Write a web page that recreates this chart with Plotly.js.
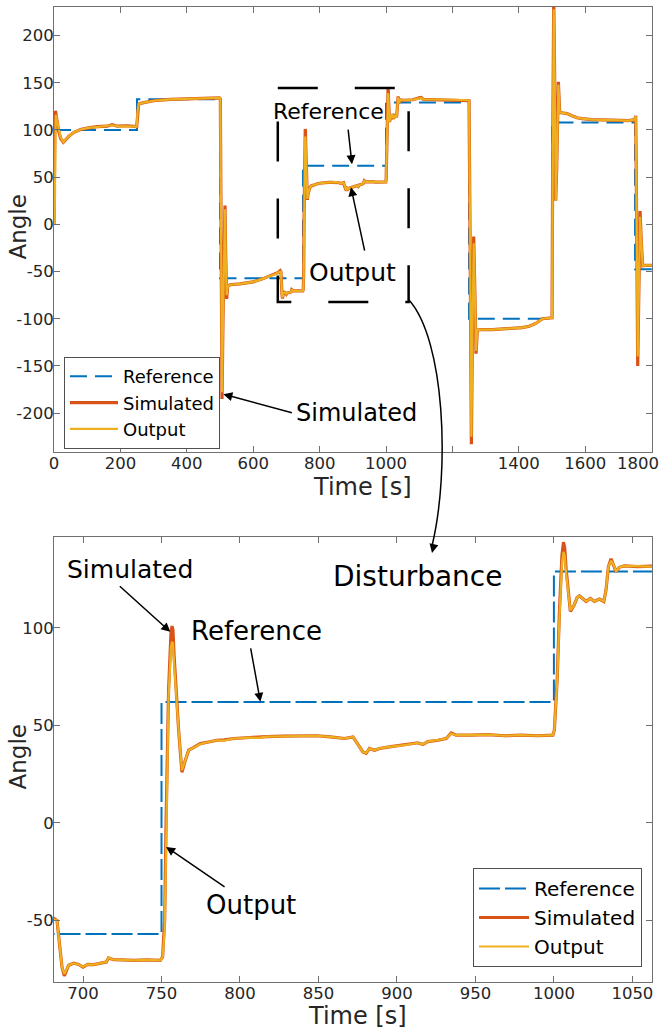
<!DOCTYPE html>
<html>
<head>
<meta charset="utf-8">
<script src="https://cdn.plot.ly/plotly-3.0.1.min.js"></script>
<style>html,body{margin:0;padding:0;background:#fff;}#chart{width:662px;height:1030px;}</style>
</head>
<body>
<div id="chart"></div>
<script>
// ---- data ----
const time = [0,1,3,5,6,9,14,20,28,35,45,60,80,100,130,160,175,190,220,249,252,255,270,300,350,420,470,498,501,503,506,509,513,515,517,520,523,530,560,600,630,650,665,675,
681.5,683.4,686.6,688.1,690.8,694,697.2,700,703,706.8,711,714.8,716.3,719.5,725,732.2,740.7,749.2,750.7,752,752.9,753.5,754.5,756,756.7,757.3,758,760.9,763,765.2,767.3,770,774.7,780,785.3,790,796,806.5,812,817,827.7,838.3,849,857.5,866.6,872,875.1,878.3,880.4,882.5,885.7,888.9,896.3,904.8,913.3,916.5,919.7,926.1,931.4,934.6,937.7,947.3,957.9,968.5,979.2,989.8,999.3,1000.3,1002.1,1003.5,1005.1,1006.1,1006.9,1007.8,1009.3,1010.5,1012.7,1014.8,1016.3,1018.4,1020.5,1023.3,1025.8,1029,1031.8,1033.2,1034.7,1036.4,1038.1,1039.6,1041.7,1044.9,1053.4,1062.3,
1080,1100,1106,1112,1150,1200,1249,1250,1253,1257,1260,1264,1268,1271,1275,1285,1320,1380,1410,1431,1451,1471,1498,1500,1502,1505,1508,1511,1514,1519,1523,1530,1545,1560,1575,1590,1620,1680,1730,1749,1752,1755,1758,1761,1765,1769,1773,1780,1801];

const output = [0,8,30,112,116,110,100,92,87,89.5,93.5,97.5,100.5,102,103,104,105,104,104,103.5,120,127.5,129,131,132.5,133,133.5,134,133,0,-178,-100,2,16,-30,-75,-66,-64,-63,-61,-57.5,-55,-53,-51,
-49.5,-50,-74,-77.5,-73,-72,-72.6,-73.8,-72.6,-72.7,-72.2,-71.4,-69.1,-70.2,-70.3,-70.5,-70.2,-70.5,-68.8,-55,-12,22,64.6,90,93,92,82,47.6,27,32.2,37.3,38.5,40.5,41.5,42.4,42.2,43.3,43.8,43.6,44.3,44.5,44.5,44.7,44.1,43.3,44.1,40.5,36.4,35.9,38.2,37.3,38.2,39.1,39.9,41.1,40.2,41.7,42.4,43.3,45.9,45,45,45.3,44.7,45,44.7,45,47.6,73,105,133,139,137,128,115.6,109,111.4,115.6,116.5,114.8,113.6,115.1,113.6,114.8,113.6,119.4,131.4,134.5,132.3,128.9,131.1,131.8,131.5,131.5,
132,133.5,134,132.5,132,132,131.5,131,0,-225,-120,-20,-80,-134,-112,-111.5,-111.5,-110.5,-109.5,-108,-105,-100,-99.5,-99,60,228,150,25,60,148,118.5,118,117.5,115,113,112,111,110.5,110,111,114.5,0,-140,-80,8,-20,-44,-43.5,-43.5];

const simulated = [0,118,120,119,116,110,99,91,87,89.5,93.5,97.5,100.5,102,103.5,104,105.5,104,104.5,103.5,120,127.5,129,131,132.5,133,133.5,134,133,-10,-185,-100,6,20,-30,-79,-66,-64,-63,-61,-57.5,-55,-53,-51,
-49,-50,-74,-78.5,-73,-72,-72.6,-74,-72.6,-72.7,-72.2,-71.4,-69.3,-70.2,-70.3,-70.5,-70.2,-70.5,-68.8,-50,0,28,68,97,101,99,86,47.6,26,32.2,37.3,38.5,40.7,41.5,42.4,42.6,43.3,43.8,44.2,44.3,44.5,44.5,44.7,44.1,43.3,44.1,40.5,36.4,35.7,38.2,37.3,38.2,39.1,39.9,41.1,40.2,41.7,42.4,43.3,46.1,45,45,45.3,44.7,45,44.7,45,47.6,74,108,137,144,141,130,115.6,108.5,111.4,115.6,116.5,114.8,113.6,115.1,113.6,114.8,113.6,119.4,131.4,135.5,132.3,128.9,131.1,131.8,131.5,131.5,
132,134,134.5,132.5,132,132,131.5,131,-10,-233,-120,-13,-80,-137,-112,-111.5,-111.5,-110.5,-109.5,-108,-105,-100,-99.5,-99,80,240,150,25,60,151,118.5,118,117.5,115,113,112,111,110.5,110,111,115,-10,-150,-80,14,-20,-44,-43.5,-43.5];

const refTime  = [0,250,250,500,500,750,750,1000,1000,1250,1250,1500,1500,1750,1750,1801];
const refValue = [100,100,132.5,132.5,-57,-57,62,62,129,129,-100,-100,108,108,-47.5,-47.5];

const topXTicks = [0,200,400,600,800,1000,1200,1400,1600,1800];
const topXLabels = ['0','200','400','600','800','1000','','1400','1600',''];
const topYTicks = [-200,-150,-100,-50,0,50,100,150,200];
const topYLabels = ['-200','-150','-100','-50','0','50','100','150','200'];
const botXTicks = [700,750,800,850,900,950,1000,1050];
const botXLabels = ['700','750','800','850','900','950','1000','1050'];
const botYTicks = [-50,0,50,100];
const botYLabels = ['-50','0','50','100'];
const lastTopXLabel = '1800';

const seriesNames = ['Reference','Simulated','Output'];
const colors = ['#0072BD','#D95319','#EDB120'];

// ---- traces ----
const FONT = 'DejaVu Sans, Verdana, sans-serif';
function makeTraces(xa, ya, leg, dash) {
  return [
    {x: refTime, y: refValue, xaxis: xa, yaxis: ya, legend: leg, name: seriesNames[0], mode: 'lines',
     line: {color: colors[0], width: 2, dash: dash}},
    {x: time, y: simulated, xaxis: xa, yaxis: ya, legend: leg, name: seriesNames[1], mode: 'lines',
     line: {color: colors[1], width: 3.2}},
    {x: time, y: output, xaxis: xa, yaxis: ya, legend: leg, name: seriesNames[2], mode: 'lines',
     line: {color: colors[2], width: 2.2}}
  ];
}
const data = makeTraces('x', 'y', 'legend', '17px,8px').concat(makeTraces('x2', 'y2', 'legend2', '21px,5px'));

const axisBase = {
  showgrid: false, zeroline: false, showline: true, linecolor: '#707070', linewidth: 1,
  mirror: 'ticks', ticks: 'inside', ticklen: 6, tickcolor: '#707070', tickmode: 'array',
  ticklabelstandoff: -4,
  tickfont: {family: FONT, size: 16.5, color: '#262626'}
};

function txt(text, x, y, xr, yr, size, color, angle) {
  return {text: text, x: x, y: y, xref: xr, yref: yr, showarrow: false, textangle: angle || 0,
          font: {family: FONT, size: size, color: color || '#000'}, xanchor: 'center', yanchor: 'middle'};
}
function arrow(x, y, xr, yr, ax, ay) {
  return {text: '', x: x, y: y, xref: xr, yref: yr, ax: ax, ay: ay, showarrow: true,
          arrowhead: 2, arrowsize: 1.2, arrowwidth: 1.5, arrowcolor: '#000', standoff: 0, startstandoff: 0};
}

const layout = {
  width: 662, height: 1030,
  margin: {l: 54, r: 10, t: 7, b: 48},
  paper_bgcolor: '#fff', plot_bgcolor: '#fff',
  font: {family: FONT, color: '#262626'},
  xaxis: Object.assign({}, axisBase, {domain: [0, 1], anchor: 'y', range: [0, 1801],
    tickvals: topXTicks, ticktext: topXLabels}),
  yaxis: Object.assign({}, axisBase, {domain: [0.5436, 1], anchor: 'x', range: [-241.2, 230.3],
    tickvals: topYTicks, ticktext: topYLabels}),
  xaxis2: Object.assign({}, axisBase, {domain: [0, 1], anchor: 'y2', range: [681.5, 1062.5],
    tickvals: botXTicks, ticktext: botXLabels}),
  yaxis2: Object.assign({}, axisBase, {domain: [0, 0.4567], anchor: 'x2', range: [-81.6, 146.8],
    tickvals: botYTicks, ticktext: botYLabels}),
  legend: {x: 0.0167, y: 0.5467, xanchor: 'left', yanchor: 'bottom', bgcolor: '#fff',
    bordercolor: '#505050', borderwidth: 1, font: {family: FONT, size: 18, color: '#000'},
    itemwidth: 48, tracegroupgap: 0},
  legend2: {x: 0.9833, y: 0.0154, xanchor: 'right', yanchor: 'bottom', bgcolor: '#fff',
    bordercolor: '#505050', borderwidth: 1, font: {family: FONT, size: 20, color: '#000'},
    itemwidth: 50, tracegroupgap: 0},
  shapes: [
    {type: 'rect', xref: 'x', yref: 'y', x0: 674, x1: 1068, y0: 144.4, y1: -82.2,
     line: {color: '#000', width: 2.5, dash: '40px,37px'}, layer: 'above'},
    {type: 'path', xref: 'paper', yref: 'paper',
     path: 'M0.5936,0.6995 C0.6538,0.6585 0.6622,0.5251 0.6325,0.4482',
     line: {color: '#000', width: 1.5}}
  ],
  annotations: [
    txt('Angle', -0.0602, 0.7738, 'paper', 'paper', 23, '#262626', -90),
    txt('Angle', -0.0602, 0.2303, 'paper', 'paper', 23, '#262626', -90),
    txt('Time [s]', 0.5167, 0.5077, 'paper', 'paper', 24, '#262626'),
    txt('Time [s]', 0.5067, -0.0349, 'paper', 'paper', 24, '#262626'),
    {text: lastTopXLabel, x: 1.0151, y: 0.5323, xref: 'paper', yref: 'paper', showarrow: false,
     xanchor: 'right', yanchor: 'middle', font: {family: FONT, size: 16.5, color: '#262626'}},
    txt('Reference', 825.8, 119.8, 'x', 'y', 22),
    txt('Output', 898.9, -50.7, 'x', 'y', 25),
    txt('Simulated', 912.5, -200.2, 'x', 'y', 24),
    txt('Simulated', 730.2, 130.2, 'x2', 'y2', 25),
    txt('Reference', 810.6, 98.3, 'x2', 'y2', 26),
    txt('Disturbance', 913.2, 126.3, 'x2', 'y2', 28),
    txt('Output', 807.2, -42.2, 'x2', 'y2', 26),
    arrow(897.4, 63.8, 'x', 'y', -4, -36),
    arrow(894.3, 39.4, 'x', 'y', 14, 65),
    arrow(510.1, -180, 'x', 'y', 70, 19),
    arrow(755.6, 98.0, 'x2', 'y2', -52, -47),
    arrow(813, 62.1, 'x2', 'y2', -10, -55),
    arrow(752.9, -12.3, 'x2', 'y2', 60, 41),
    arrow(0.6321, 0.4400, 'paper', 'paper', 2, -9)
  ]
};

Plotly.newPlot('chart', data, layout, {staticPlot: true, displayModeBar: false});
</script>
</body>
</html>
